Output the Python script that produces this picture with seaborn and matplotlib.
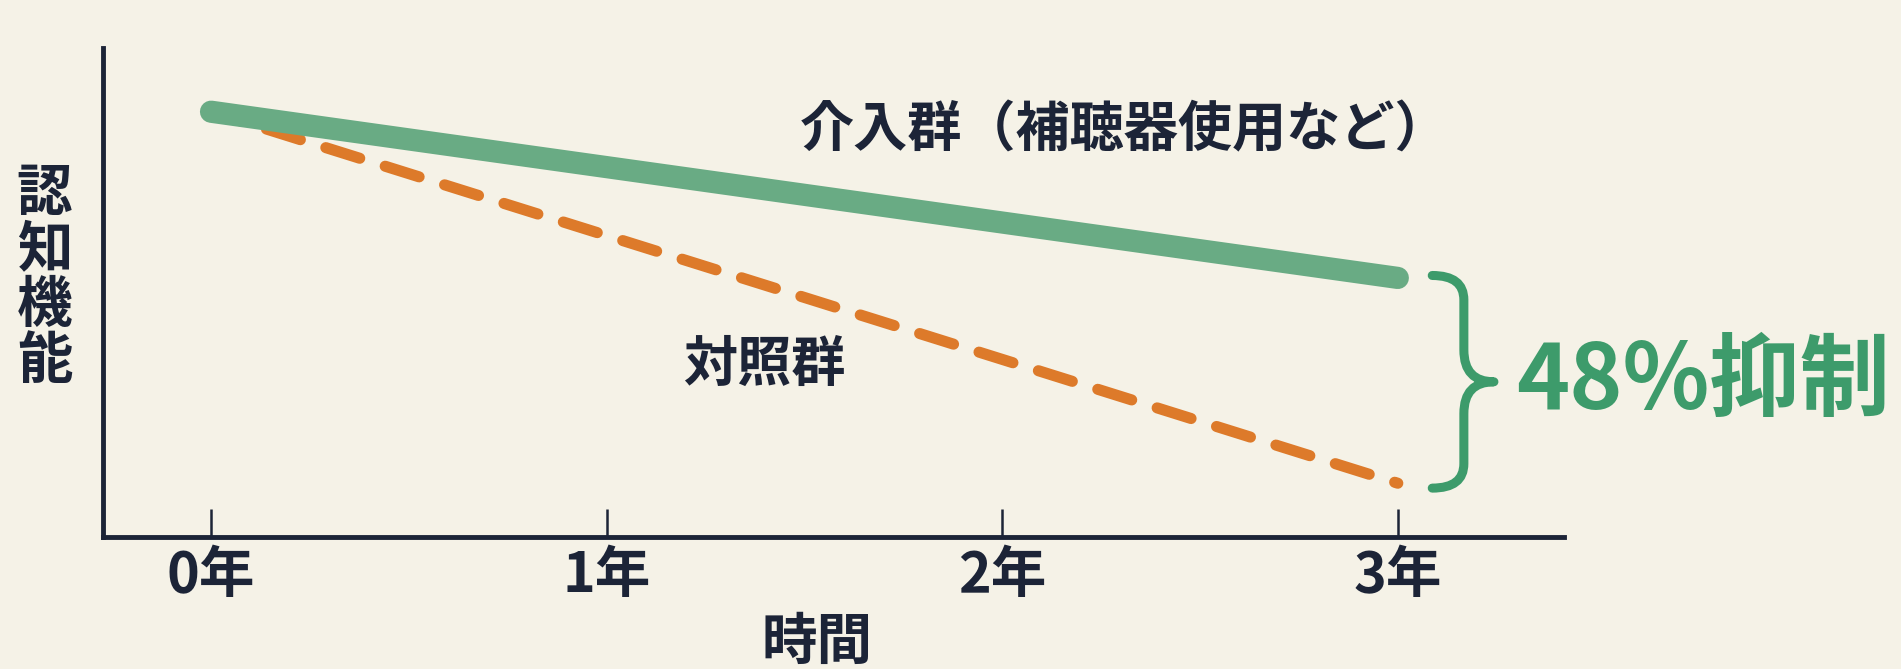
import numpy as np
import pandas as pd
import matplotlib
matplotlib.use("Agg")
import matplotlib.pyplot as plt
from matplotlib.path import Path
from matplotlib.patches import PathPatch
import seaborn as sns

# values (cognitive function, arbitrary units)
years = [0, 3]
intervention = [87, 53]
control = [87, 11]
tick_years = [0, 1, 2, 3]
tick_labels = ["0年", "1年", "2年", "3年"]
label_intervention = "介入群（補聴器使用など）"
label_control = "対照群"
label_effect = "48%抑制"

bg = "#f5f2e7"
navy = "#1c2437"
green_line = "#69ab84"
green_dark = "#3d9b6b"
orange = "#dd7a2a"

sns.set_theme(style="white", rc={"figure.facecolor": bg, "axes.facecolor": bg})
plt.rcParams["font.family"] = ["Noto Sans CJK JP", "DejaVu Sans"]
plt.rcParams["font.weight"] = "bold"

df = pd.DataFrame({"year": years, "intervention": intervention, "control": control})

fig = plt.figure(figsize=(19.01, 6.69), dpi=100)
ax = fig.add_axes([0.0542, 0.1973, 0.7685, 0.7307])

sns.lineplot(data=df, x="year", y="control", ax=ax, color=orange, lw=8,
             linestyle=(0.375, (3.2, 2.4)), dash_capstyle="round", zorder=2)
sns.lineplot(data=df, x="year", y="intervention", ax=ax, color=green_line, lw=16,
             solid_capstyle="round", zorder=3)

ax.set_xlim(-0.273, 3.42)
ax.set_ylim(0, 100)

sns.despine(ax=ax)
for side in ["left", "bottom"]:
    ax.spines[side].set_color(navy)
    ax.spines[side].set_linewidth(3.5)

ax.set_xticks(tick_years)
ax.set_xticklabels(tick_labels, fontsize=40, fontweight="bold", color=navy)
ax.tick_params(axis="x", direction="in", length=20, width=1.8, color=navy, pad=8,
               bottom=True)
ax.set_yticks([])

ax.set_xlabel("時間", fontsize=40, fontweight="bold", color=navy)
ax.xaxis.set_label_coords(0.489, -0.217)
ax.xaxis.label.set_va("center")
ax.set_ylabel("認\n知\n機\n能", fontsize=40, fontweight="bold", color=navy,
              rotation=0, linespacing=1.0, va="center", ha="center")
ax.yaxis.set_label_coords(-0.04, 0.53)

ax.text(2.31, 83.0, label_intervention, fontsize=39, fontweight="bold",
        color=navy, ha="center", va="center")
ax.text(1.398, 35.2, label_control, fontsize=39, fontweight="bold",
        color=navy, ha="center", va="center")

# curly brace spanning the gap between the two groups at year 3
y_top = intervention[-1] + 0.5
y_bot = control[-1] - 1.0
y_mid = (y_top + y_bot) / 2
x0, x1, x2 = years[-1] + 0.087, years[-1] + 0.167, years[-1] + 0.243
r_end, r_mid = 5.0, 6.5
verts = [(x0, y_top), (x1, y_top), (x1, y_top - r_end),
         (x1, y_mid + r_mid), (x1, y_mid), (x2, y_mid),
         (x1, y_mid), (x1, y_mid - r_mid),
         (x1, y_bot + r_end), (x1, y_bot), (x0, y_bot)]
codes = [Path.MOVETO, Path.CURVE3, Path.CURVE3,
         Path.LINETO, Path.CURVE3, Path.CURVE3,
         Path.CURVE3, Path.CURVE3,
         Path.LINETO, Path.CURVE3, Path.CURVE3]
brace = PathPatch(Path(verts, codes), fill=False, edgecolor=green_dark, lw=6.5,
                  capstyle="round", joinstyle="round", clip_on=False)
ax.add_patch(brace)

ax.text(x2 + 0.055, y_mid, label_effect, fontsize=65, fontweight="bold",
        color=green_dark, ha="left", va="center", clip_on=False)

fig.savefig("out.png", dpi=100, facecolor=bg)
